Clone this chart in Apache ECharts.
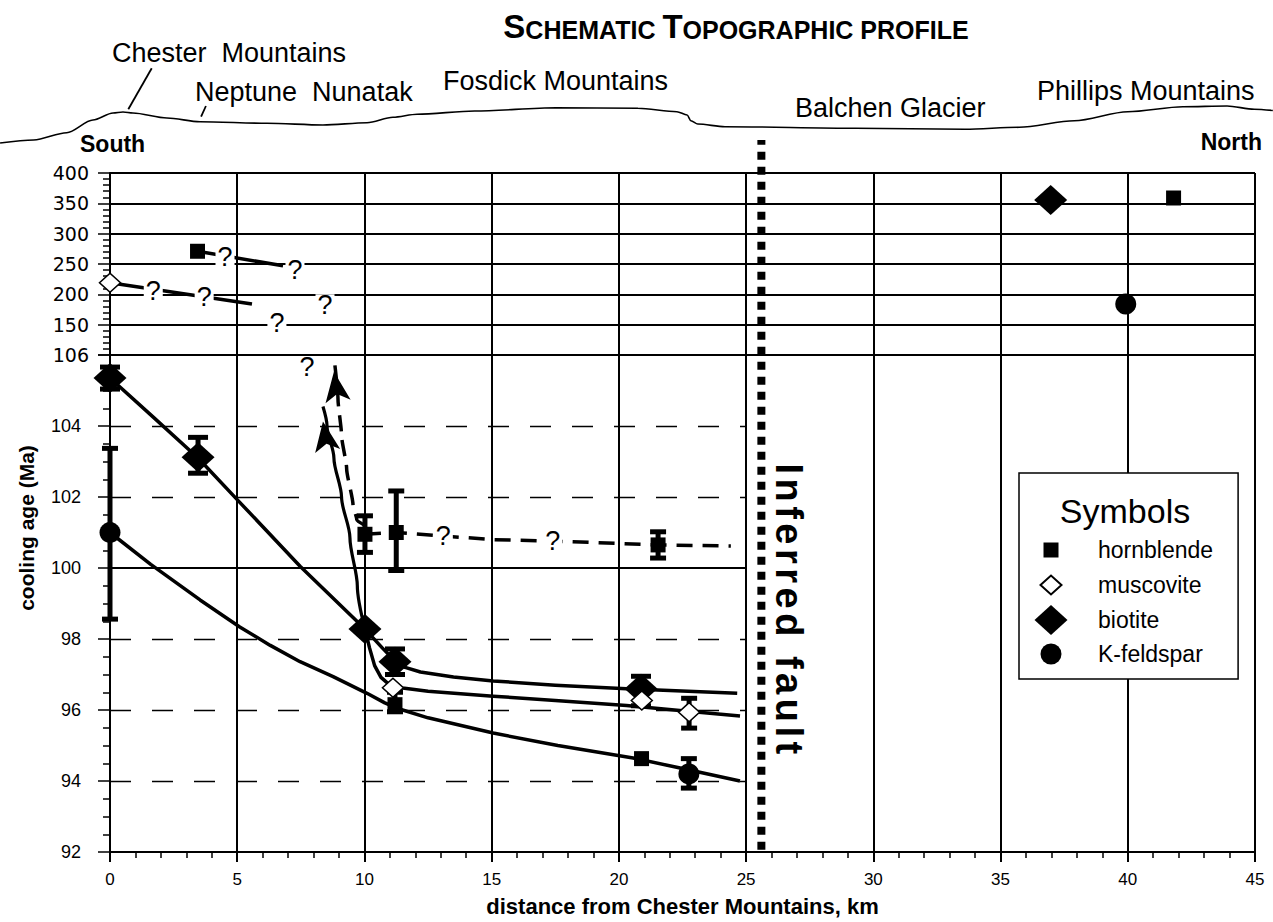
<!DOCTYPE html>
<html>
<head>
<meta charset="utf-8">
<title>Cooling ages along the Chester Mountains profile</title>
<script src="https://cdn.jsdelivr.net/npm/echarts@6/dist/echarts.min.js"></script>
<style>
  html, body { margin: 0; padding: 0; background: #fff; }
  #chart { width: 1273px; height: 922px; }
</style>
</head>
<body>
<div id="chart"></div>
<script>
const FONT = '"Liberation Sans", Arial, Helvetica, sans-serif'
const WIDE = '"DejaVu Sans", sans-serif'

// axes
const xTicks = [0, 5, 10, 15, 20, 25, 30, 35, 40, 45]
const lowTicks = [92, 94, 96, 98, 100, 102, 104, 106]
const highTicks = [100, 150, 200, 250, 300, 350, 400] // 100 = axis break (labelled 106 below)

// young ages, Ma  [km, age]
const hornblende = [[10.02, 100.95], [11.25, 101.0], [21.54, 100.65], [11.2, 96.15], [20.89, 94.63]]
const muscovite = [[11.12, 96.63], [20.9, 96.27], [22.76, 95.94]]
const biotite = [[0, 105.35], [3.46, 103.12], [10.02, 98.28], [11.2, 97.36], [20.87, 96.6]]
const kfeldspar = [[0, 101.0], [22.75, 94.2]]

// error bars [km, low, high]
const hornblendeErr = [[10.02, 100.44, 101.47], [11.25, 99.93, 102.17], [21.54, 100.28, 101.02], [11.2, 95.95, 96.5]]
const muscoviteErr = [[22.76, 95.49, 96.33]]
const biotiteErr = [[0, 105.04, 105.66], [3.46, 102.67, 103.68], [11.2, 97.0, 97.72], [20.87, 96.12, 96.95]]
const kfeldsparErr = [[0, 98.56, 103.37], [22.75, 93.8, 94.63]]

// hand drawn trends
const biotiteTrend = [[0, 105.35], [1.7, 104.25], [3.46, 103.1], [5.1, 101.85], [7.47, 100.05], [10.02, 98.28], [10.7, 97.75], [11.2, 97.38], [11.6, 97.2], [12.2, 97.07], [13.5, 96.93], [15.06, 96.82], [17.5, 96.7], [20.3, 96.6], [24.65, 96.47]]
const muscoviteTrend = [[10.02, 98.28], [10.2, 97.75], [10.4, 97.25], [10.65, 96.92], [11.0, 96.7], [11.5, 96.62], [12.5, 96.53], [15.06, 96.39], [17.5, 96.27], [20.3, 96.13], [22.5, 95.98], [24.76, 95.83]]
const kfeldsparTrend = [[0, 101.0], [1.6, 100.1], [3.54, 99.1], [5.1, 98.34], [6.3, 97.82], [7.47, 97.36], [8.77, 96.94], [10.1, 96.47], [10.8, 96.2], [11.28, 96.05], [12.5, 95.78], [15.06, 95.35], [17.6, 95.0], [20.56, 94.65], [22.5, 94.35], [24.76, 94.0]]
const hornblendeTrend = [[10.02, 100.95], [11.25, 101.0], [13.1, 100.9], [15.06, 100.8], [17.4, 100.76], [20.05, 100.69], [21.54, 100.65], [24.4, 100.62]]
const biotiteArrow = [[10.02, 98.28], [9.72, 99.5], [9.43, 100.85], [9.1, 102.0], [8.8, 103.1], [8.53, 104.0], [8.37, 104.55]]
const hornblendeArrow = [[10.02, 101.2], [9.7, 101.36], [9.55, 101.78], [9.3, 102.8], [9.1, 103.74], [8.96, 104.77], [8.8, 105.95]]
const queryYoung = [[13.1, 100.9], [17.4, 100.76], [7.74, 105.66]]

// grid levels drawn only south of the fault
const dashedLevels = [94, 96, 98, 102, 104]
const solidLevels = [100]
const levelEnd = 25

// old ages, Ma
const hornblendeOld = [[3.44, 271], [41.8, 358.8]]
const muscoviteOld = [[0, 219]]
const biotiteOld = [[36.97, 355.5]]
const kfeldsparOld = [[39.92, 184]]
const hornblendeOldTrend = [[3.44, 271], [6.8, 247]]
const muscoviteOldTrend = [[0, 219], [5.58, 184]]
const queryOld = [[4.52, 262], [7.27, 240], [1.7, 205], [3.7, 196], [6.56, 152], [8.45, 182]]

// schematic topography [km, relative height]
const profile = [[-4.32, 7], [-3.0, 10], [-1.7, 17.3], [-0.67, 30], [0.12, 37], [0.51, 38], [0.9, 37], [2.24, 32], [3.54, 28.3], [6.17, 26.7], [8.37, 25], [10.1, 27.3], [11.12, 32.7], [12.07, 35.7], [14.33, 39], [17.53, 42.2], [20.75, 41.7], [22.28, 38.3], [22.68, 35], [22.83, 29.3], [23.1, 26], [24.17, 23.3], [29.3, 21.7], [33.6, 20.7], [35.73, 22.7], [37.9, 29.3], [40.0, 38.3], [42.17, 43.3], [43.9, 44], [44.97, 40.7], [45.7, 39.5]]
const chesterPointer = [[1.64, 81.7], [0.72, 40.7]]
const neptunePointer = [[3.77, 44], [3.58, 33.3]]
const faultAt = 25.6
const faultLabel = 'Inferred fault'

const chart = echarts.init(document.getElementById('chart'), null, { renderer: 'svg' })

const black = '#000'
const last = a => a[a.length - 1]

function errorBar (capWidth) {
  return (params, api) => {
    const lo = api.coord([api.value(0), api.value(1)])
    const hi = api.coord([api.value(0), api.value(2)])
    const st = { stroke: black, lineWidth: 5 }
    const h = capWidth / 2
    return {
      type: 'group',
      children: [
        { type: 'line', shape: { x1: lo[0], y1: lo[1], x2: hi[0], y2: hi[1] }, style: st },
        { type: 'line', shape: { x1: lo[0] - h, y1: lo[1], x2: lo[0] + h, y2: lo[1] }, style: st },
        { type: 'line', shape: { x1: hi[0] - h, y1: hi[1], x2: hi[0] + h, y2: hi[1] }, style: st },
      ],
    }
  }
}

const errSeries = (data, cap) => ({
  type: 'custom', xAxisIndex: 0, yAxisIndex: 0, data,
  encode: { x: 0, y: [1, 2] }, renderItem: errorBar(cap), silent: true,
})

const trend = (data, grid, extra) => Object.assign({
  type: 'line', xAxisIndex: grid, yAxisIndex: grid, data,
  symbol: 'none', smooth: false, silent: true,
  lineStyle: { color: black, width: 3.5, join: 'round' },
}, extra)

const styles = {
  hornblende: { symbol: 'rect', symbolSize: 15, itemStyle: { color: black, opacity: 1 } },
  muscovite: { symbol: 'diamond', symbolSize: [21, 19], itemStyle: { color: '#fff', borderColor: black, borderWidth: 1.5, opacity: 1 } },
  biotite: { symbol: 'diamond', symbolSize: [33, 30], itemStyle: { color: black, opacity: 1 } },
  'K-feldspar': { symbol: 'circle', symbolSize: 21, itemStyle: { color: black, opacity: 1 } },
}
const points = (name, data, grid) => Object.assign({
  type: 'scatter', name, data, xAxisIndex: grid, yAxisIndex: grid, z: 5,
}, styles[name])

const queries = (data, grid) => ({
  type: 'scatter', data, xAxisIndex: grid, yAxisIndex: grid, z: 6,
  symbolSize: 2, itemStyle: { color: 'rgba(0,0,0,0)' }, silent: true,
  label: {
    show: true, position: 'inside', formatter: '?', color: black, opacity: 1,
    fontSize: 27, lineHeight: 22, fontFamily: FONT, backgroundColor: '#fff', padding: [0, 2],
  },
})

const arrowHead = (tip, rot) => ({
  type: 'scatter', data: [tip], xAxisIndex: 0, yAxisIndex: 0, z: 4, silent: true,
  symbol: 'arrow', symbolSize: [19, 30], symbolRotate: rot, symbolOffset: [0, '50%'],
  itemStyle: { color: black, opacity: 1 },
})

const levelLines = (levels, lineStyle) => levels.map(v => [
  { coord: [xTicks[0], v], lineStyle },
  { coord: [levelEnd, v] },
])

const xBase = {
  type: 'value', min: xTicks[0], max: last(xTicks), interval: xTicks[1] - xTicks[0],
  splitLine: { show: true, lineStyle: { color: black, width: 2 } },
}

const option = {
  animation: false,
  backgroundColor: '#fff',
  textStyle: { fontFamily: FONT, color: black },
  grid: [
    { left: 110, right: 18, top: 355, bottom: 65 },
    { left: 110, right: 18, top: 173, bottom: 567 },
    { left: 0, right: 0, top: 40, bottom: 772 },
    { left: 110, right: 18, top: 140, bottom: 65 },
  ],
  xAxis: [
    Object.assign({}, xBase, {
      gridIndex: 0,
      name: 'distance from Chester Mountains, km', nameLocation: 'middle', nameGap: 43,
      nameTextStyle: { fontSize: 22, fontWeight: 'bold', color: black, fontFamily: FONT },
      axisLine: { lineStyle: { color: black, width: 2 } },
      axisTick: { length: 10, lineStyle: { color: black, width: 2 } },
      minorTick: { show: true, splitNumber: 5, length: 6, lineStyle: { color: black, width: 1.5 } },
      axisLabel: { fontSize: 17, margin: 19, color: black, fontFamily: FONT },
    }),
    Object.assign({}, xBase, {
      gridIndex: 1,
      axisLine: { show: false }, axisTick: { show: false }, axisLabel: { show: false },
    }),
    { type: 'value', gridIndex: 2, min: -4.323, max: 45.707, show: false },
    { type: 'value', gridIndex: 3, min: xTicks[0], max: last(xTicks), show: false },
  ],
  yAxis: [
    {
      type: 'value', gridIndex: 0,
      min: lowTicks[0], max: last(lowTicks), interval: lowTicks[1] - lowTicks[0],
      axisLine: { show: true, lineStyle: { color: black, width: 2 } },
      axisTick: { show: true, length: 12, lineStyle: { color: black, width: 1.5 } },
      minorTick: { show: true, splitNumber: 4, length: 7, lineStyle: { color: black, width: 1.5 } },
      splitLine: { show: false },
      axisLabel: {
        margin: 21, color: black,
        formatter: v => v === last(lowTicks) ? '{w|' + v + '}' : '{n|' + v + '}',
        rich: {
          n: { fontSize: 18, fontFamily: FONT, color: black, padding: [0, 8, 0, 0] },
          w: { fontSize: 19, fontFamily: WIDE, color: black },
        },
      },
    },
    {
      type: 'value', gridIndex: 1,
      min: highTicks[0], max: last(highTicks), interval: highTicks[1] - highTicks[0],
      axisLine: { show: true, lineStyle: { color: black, width: 2 } },
      axisTick: { show: true, length: 12, lineStyle: { color: black, width: 1.5 } },
      minorTick: { show: true, splitNumber: 5, length: 7, lineStyle: { color: black, width: 1.5 } },
      splitLine: { show: true, lineStyle: { color: black, width: 2 } },
      axisLabel: { showMinLabel: false, margin: 21, fontSize: 19, fontFamily: WIDE, color: black },
    },
    { type: 'value', gridIndex: 2, min: 0, max: 110, show: false },
    { type: 'value', gridIndex: 3, min: 0, max: 1, show: false },
  ],
  legend: {
    orient: 'vertical', left: 1019, top: 473,
    padding: [62, 25, 10, 14],
    backgroundColor: '#fff', borderColor: black, borderWidth: 1.5,
    itemWidth: 34, itemHeight: 30, itemGap: 4,
    selectedMode: false,
    textStyle: { fontSize: 23, color: black, fontFamily: FONT, padding: [0, 0, 0, 25] },
    data: [
      { name: 'hornblende', icon: 'path://M0,0M34,30M9.5,7.5h15v15h-15Z' },
      { name: 'muscovite', icon: 'path://M0,0M34,30M6.5,15L17,5.5L27.5,15L17,24.5Z' },
      { name: 'biotite', icon: 'path://M0.5,15L17,0L33.5,15L17,30Z' },
      { name: 'K-feldspar', icon: 'path://M0,0M34,30M6.5,15A10.5,10.5,0,1,0,27.5,15A10.5,10.5,0,1,0,6.5,15Z' },
    ],
  },
  graphic: [
    {
      type: 'text', x: 736, y: 43, z: 100,
      style: {
        text: '{b|S}{s|CHEMATIC }{b|T}{s|OPOGRAPHIC PROFILE}',
        align: 'center', verticalAlign: 'bottom',
        rich: {
          b: { fontSize: 33, fontWeight: 'bold', fontFamily: FONT, fill: black, verticalAlign: 'bottom' },
          s: { fontSize: 25, fontWeight: 'bold', fontFamily: FONT, fill: black, verticalAlign: 'bottom', padding: [0, 0, 1, 0] },
        },
      },
    },
    { type: 'text', x: 112, y: 53, style: { text: 'Chester  Mountains', font: '27px ' + FONT, fill: black, verticalAlign: 'middle' } },
    { type: 'text', x: 195, y: 92, style: { text: 'Neptune  Nunatak', font: '27px ' + FONT, fill: black, verticalAlign: 'middle' } },
    { type: 'text', x: 443, y: 81, style: { text: 'Fosdick Mountains', font: '27px ' + FONT, fill: black, verticalAlign: 'middle' } },
    { type: 'text', x: 795, y: 108, style: { text: 'Balchen Glacier', font: '27px ' + FONT, fill: black, verticalAlign: 'middle' } },
    { type: 'text', x: 1037, y: 91, style: { text: 'Phillips Mountains', font: '27px ' + FONT, fill: black, verticalAlign: 'middle' } },
    { type: 'text', x: 80, y: 144, style: { text: 'South', font: 'bold 23px ' + FONT, fill: black, verticalAlign: 'middle' } },
    { type: 'text', x: 1262, y: 142, style: { text: 'North', font: 'bold 23px ' + FONT, fill: black, align: 'right', verticalAlign: 'middle' } },
    {
      type: 'text', x: 26, y: 528, rotation: Math.PI / 2,
      style: { text: 'cooling age (Ma)', font: 'bold 21px ' + FONT, fill: black, align: 'center', verticalAlign: 'middle' },
    },
    {
      type: 'text', x: 789, y: 611, rotation: -Math.PI / 2, z: 10,
      style: { text: faultLabel, font: 'bold 38px ' + FONT, fill: black, align: 'center', verticalAlign: 'middle' },
    },
    {
      type: 'text', x: 1125, y: 511, z: 100,
      style: { text: 'Symbols', font: '34px ' + FONT, fill: black, align: 'center', verticalAlign: 'middle' },
    },
  ],
  series: [
    // topography
    trend(profile, 2, { smooth: 0.3, smoothMonotone: 'x', lineStyle: { color: black, width: 1.6 } }),
    trend(chesterPointer, 2, { lineStyle: { color: black, width: 1.8 } }),
    trend(neptunePointer, 2, { lineStyle: { color: black, width: 1.8 } }),

    // fault
    {
      type: 'line', xAxisIndex: 3, yAxisIndex: 3, symbol: 'none', silent: true, z: 3,
      data: [[faultAt, 0.01], [faultAt, 1]],
      lineStyle: { color: black, width: 8, type: [8, 7], cap: 'butt' },
    },

    // lower panel
    trend(kfeldsparTrend, 0, {
      markLine: {
        silent: true, symbol: ['none', 'none'], label: { show: false },
        data: levelLines(dashedLevels, { color: black, width: 1.3, type: [21, 21] })
          .concat(levelLines(solidLevels, { color: black, width: 2, type: 'solid' })),
      },
    }),
    trend(biotiteTrend, 0),
    trend(muscoviteTrend, 0),
    trend(biotiteArrow, 0, { smooth: 0.3, smoothMonotone: 'y', lineStyle: { color: black, width: 3.2 } }),
    trend(hornblendeArrow, 0, { smooth: 0.2, smoothMonotone: 'y', lineStyle: { color: black, width: 3.5, type: [16, 9] } }),
    trend(hornblendeTrend, 0, { lineStyle: { color: black, width: 3.5, type: [16, 10] } }),
    arrowHead(last(biotiteArrow), 9),
    arrowHead(last(hornblendeArrow), 8),

    errSeries(kfeldsparErr, 16),
    errSeries(biotiteErr, 20),
    errSeries(hornblendeErr, 16),
    errSeries(muscoviteErr, 16),

    points('K-feldspar', kfeldspar, 0),
    points('hornblende', hornblende, 0),
    points('biotite', biotite, 0),
    points('muscovite', muscovite, 0),
    queries(queryYoung, 0),

    // upper panel
    trend(hornblendeOldTrend, 1),
    trend(muscoviteOldTrend, 1),
    points('hornblende', hornblendeOld, 1),
    points('muscovite', muscoviteOld, 1),
    points('biotite', biotiteOld, 1),
    points('K-feldspar', kfeldsparOld, 1),
    queries(queryOld, 1),
  ],
}

chart.setOption(option)

// the fault label is set wide in the original
function spaceFaultLabel () {
  chart.getDom().querySelectorAll('text').forEach(t => {
    if (t.textContent === faultLabel) t.style.letterSpacing = '4.5px'
  })
}
chart.on('finished', spaceFaultLabel)
setTimeout(spaceFaultLabel, 50)
</script>
</body>
</html>
